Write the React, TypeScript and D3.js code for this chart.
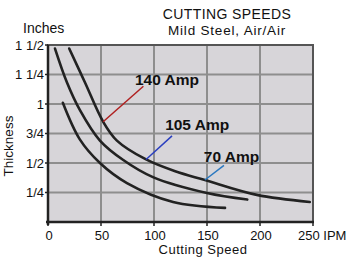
import React from "react";
import * as d3 from "d3";

const W = 352;
const H = 257;

const xTicks = [0, 50, 100, 150, 200, 250];
const xTickLabels = ["0", "50", "100", "150", "200", "250 IPM"];
const yTicks = [0.25, 0.5, 0.75, 1, 1.25, 1.5];
const yTickLabels = ["1/4", "1/2", "3/4", "1", "1 1/4", "1 1/2"];

const amp140Speed = [20, 35, 52, 65, 92.5, 120, 148, 197, 247];
const amp140Thick = [1.47, 1.18, 0.85, 0.69, 0.53, 0.43, 0.356, 0.23, 0.17];
const amp105Speed = [6.6, 18, 30, 49, 71, 99, 150, 188];
const amp105Thick = [1.47, 1.18, 0.95, 0.69, 0.525, 0.38, 0.245, 0.19];
const amp70Speed = [14, 30, 49, 74.5, 118, 167];
const amp70Thick = [1.01, 0.7, 0.5, 0.33, 0.17, 0.12];

const labels = ["140 Amp", "105 Amp", "70 Amp"];
const labelAnchorSpeed = [52, 92.5, 148];
const labelAnchorThick = [0.85, 0.53, 0.356];
const labelTextSpeed = [82, 110.5, 147];
const labelTextThick = [1.161, 0.78, 0.51];
const labelLineEndSpeed = [90, 117, 166];
const labelLineEndThick = [1.15, 0.73, 0.48];
const labelColors = ["#b02020", "#2a3fc0", "#2a78c0"];

export default function App() {
  const x = d3.scaleLinear().domain([0, 250]).range([48, 313]);
  const y = d3.scaleLinear().domain([0, 1.5]).range([222, 45]);
  const line = d3
    .line<[number, number]>()
    .x((d) => x(d[0]))
    .y((d) => y(d[1]))
    .curve(d3.curveCatmullRom.alpha(0.5));

  const series = [
    d3.zip(amp140Speed, amp140Thick) as [number, number][],
    d3.zip(amp105Speed, amp105Thick) as [number, number][],
    d3.zip(amp70Speed, amp70Thick) as [number, number][],
  ];

  const font = "Liberation Sans, Arial, sans-serif";

  return (
    <svg
      width={W}
      height={H}
      style={{ position: "absolute", left: 0, top: 0, background: "#fff" }}
      fontFamily={font}
    >
      <rect
        x={x(0)}
        y={y(1.5)}
        width={x(250) - x(0)}
        height={y(0) - y(1.5)}
        fill="#d7d5d9"
      />
      {[50, 100, 150, 200].map((v) => (
        <line
          key={"gx" + v}
          x1={x(v)}
          x2={x(v)}
          y1={y(1.5)}
          y2={y(0)}
          stroke="#8e8e8e"
          strokeWidth={2}
        />
      ))}
      {[0.25, 0.5, 0.75, 1, 1.25].map((v) => (
        <line
          key={"gy" + v}
          x1={x(0)}
          x2={x(250)}
          y1={y(v)}
          y2={y(v)}
          stroke="#8e8e8e"
          strokeWidth={2}
        />
      ))}
      <rect
        x={x(0)}
        y={y(1.5)}
        width={x(250) - x(0)}
        height={y(0) - y(1.5)}
        fill="none"
        stroke="#555"
        strokeWidth={2}
      />
      <line x1={x(0)} x2={x(0)} y1={y(1.5)} y2={y(0) + 3} stroke="#222" strokeWidth={2.5} />
      <line x1={x(0) - 2} x2={x(250) + 1} y1={y(0)} y2={y(0)} stroke="#222" strokeWidth={2.5} />
      {xTicks.map((v) => (
        <line key={"xt" + v} x1={x(v)} x2={x(v)} y1={y(0)} y2={y(0) + 4} stroke="#222" strokeWidth={1.5} />
      ))}
      {yTicks.map((v) => (
        <line key={"yt" + v} x1={x(0) - 3} x2={x(0)} y1={y(v)} y2={y(v)} stroke="#222" strokeWidth={1.5} />
      ))}

      {series.map((s, i) => (
        <path key={"s" + i} d={line(s) || ""} fill="none" stroke="#222" strokeWidth={2.6} strokeLinecap="round" />
      ))}

      {labels.map((l, i) => (
        <g key={"l" + i}>
          <line
            x1={x(labelAnchorSpeed[i])}
            y1={y(labelAnchorThick[i])}
            x2={x(labelLineEndSpeed[i])}
            y2={y(labelLineEndThick[i])}
            stroke={labelColors[i]}
            strokeWidth={1.5}
          />
          <text
            x={x(labelTextSpeed[i])}
            y={y(labelTextThick[i])}
            fontSize={15.5}
            fontWeight="bold"
            fill="#111"
          >
            {l}
          </text>
        </g>
      ))}

      {xTicks.map((v, i) => (
        <text
          key={"xl" + v}
          x={x(v) + (i === 5 ? -15 : 1)}
          y={239.5}
          fontSize={13}
          textAnchor={i === 5 ? "start" : "middle"}
          fill="#111"
        >
          {xTickLabels[i]}
        </text>
      ))}
      {yTicks.map((v, i) => (
        <text
          key={"yl" + v}
          x={44}
          y={y(v) + 4.5}
          fontSize={13}
          textAnchor="end"
          fill="#111"
        >
          {yTickLabels[i]}
        </text>
      ))}
      <text x={203} y={254} fontSize={13} letterSpacing={0.5} textAnchor="middle" fill="#111">
        Cutting Speed
      </text>
      <text
        transform="translate(13,146) rotate(-90)"
        fontSize={13.5}
        textAnchor="middle"
        fill="#111"
      >
        Thickness
      </text>
      <text x={23} y={33} fontSize={14} fill="#111">
        Inches
      </text>
      <text x={227} y={19} fontSize={14} letterSpacing={0.4} textAnchor="middle" fill="#111">
        CUTTING SPEEDS
      </text>
      <text x={227} y={35} fontSize={13.5} letterSpacing={0.8} textAnchor="middle" fill="#111">
        Mild Steel, Air/Air
      </text>
    </svg>
  );
}
